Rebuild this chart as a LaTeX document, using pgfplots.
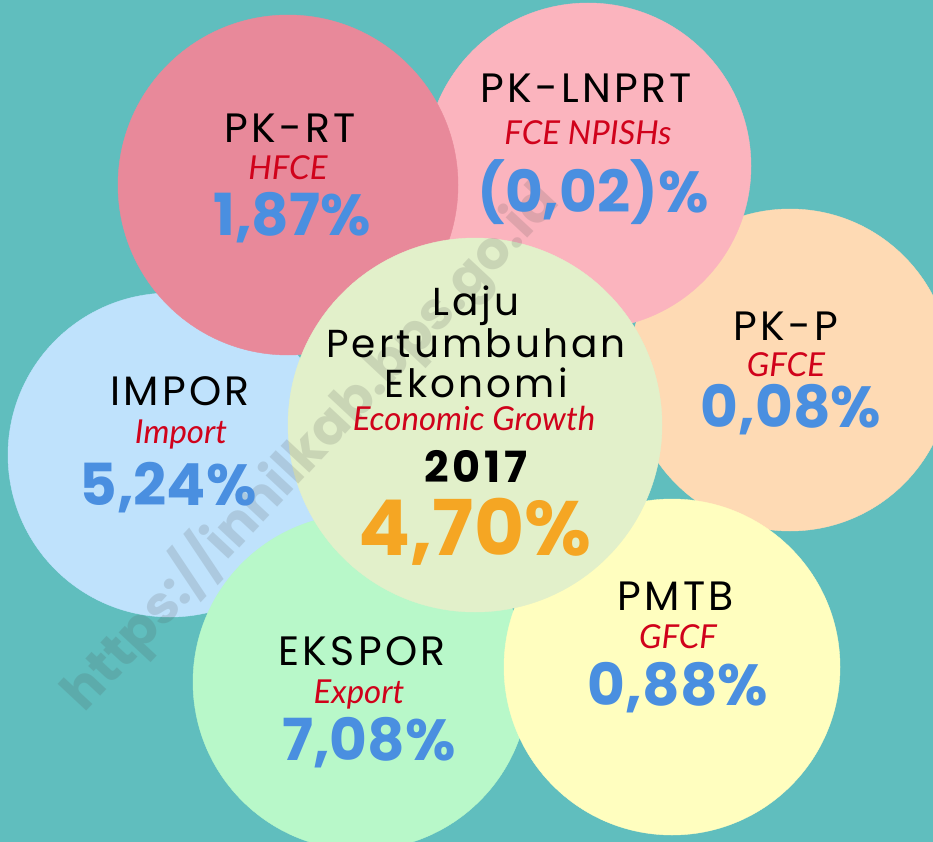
\documentclass[border=0pt]{standalone}
\usepackage{pgfplots}
\pgfplotsset{compat=1.18}
\usepackage{fontspec}
\setmainfont{Poppins}
\newfontfamily\mont{Poppins}[LetterSpace=8]
\newfontfamily\lato{Lato}
\definecolor{bg}{HTML}{60BEBE}
\definecolor{cRT}{HTML}{E8899A}
\definecolor{cLN}{HTML}{FBB4BE}
\definecolor{cP}{HTML}{FEDAB4}
\definecolor{cPM}{HTML}{FFFEBF}
\definecolor{cEX}{HTML}{B8F8C9}
\definecolor{cIM}{HTML}{BFE2FC}
\definecolor{cC}{HTML}{E2F0CA}
\definecolor{nblue}{HTML}{4A8FE0}
\definecolor{ered}{HTML}{D0021B}
\definecolor{orng}{HTML}{F5A623}
\newcommand{\nm}[1]{{\mont\fontsize{41}{41}\selectfont #1}}
\newcommand{\cl}[1]{{\mont\fontsize{39}{39}\selectfont #1}}
\newcommand{\en}[1]{{\lato\itshape\fontsize{33}{33}\selectfont\color{ered}#1}}
\newcommand{\val}[1]{{\bfseries\fontsize{58}{58}\selectfont\color{nblue}#1}}
\begin{document}
\begin{tikzpicture}
\begin{axis}[
  x=1pt, y=1pt, xmin=0, xmax=933, ymin=0, ymax=842,
  y dir=reverse, hide axis, clip=true, clip marker paths=true,
  scale only axis,
]
\addplot[fill=bg, draw=none] coordinates {(0,0) (933,0) (933,842) (0,842)} \closedcycle;
% circles (center x, center y), radius as mark size
\addplot[only marks, mark=*, color=cP, mark size=161pt] coordinates {(790,370)};
\addplot[only marks, mark=*, color=cLN, mark size=163pt] coordinates {(588,166)};
\addplot[only marks, mark=*, color=cIM, mark size=162pt] coordinates {(170,455)};
\addplot[only marks, mark=*, color=cRT, mark size=170pt] coordinates {(288,185)};
\addplot[only marks, mark=*, color=cEX, mark size=168pt] coordinates {(361,682)};
\addplot[only marks, mark=*, color=cPM, mark size=168pt] coordinates {(672,667)};
\addplot[only marks, mark=*, color=cC, mark size=187pt] coordinates {(475,425)};
% watermark
\node[rotate=47, opacity=0.16, text=black!70, font={\bfseries\fontsize{53}{53}\selectfont}] at (axis cs:310,446) {https://inhilkab.bps.go.id};
% PK-RT
\node[anchor=base] at (axis cs:290,143) {\nm{PK-RT}};
\node[anchor=base] at (axis cs:288,180) {\en{HFCE}};
\node[anchor=base] at (axis cs:292,235) {\val{1,87\%}};
% PK-LNPRT
\node[anchor=base] at (axis cs:586,103) {\nm{PK-LNPRT}};
\node[anchor=base] at (axis cs:588,145) {\en{FCE NPISHs}};
\node[anchor=base] at (axis cs:593,212) {\val{(0,02)\%}};
% PK-P
\node[anchor=base] at (axis cs:786,340) {\nm{PK-P}};
\node[anchor=base] at (axis cs:786,376) {\en{GFCE}};
\node[anchor=base] at (axis cs:791,427) {\val{0,08\%}};
% IMPOR
\node[anchor=base] at (axis cs:180,405) {\nm{IMPOR}};
\node[anchor=base] at (axis cs:181,443) {\en{Import}};
\node[anchor=base] at (axis cs:168,505) {\val{5,24\%}};
% EKSPOR
\node[anchor=base] at (axis cs:362,665) {\nm{EKSPOR}};
\node[anchor=base] at (axis cs:359,703) {\en{Export}};
\node[anchor=base] at (axis cs:369,760) {\val{7,08\%}};
% PMTB
\node[anchor=base] at (axis cs:676,610) {\nm{PMTB}};
\node[anchor=base] at (axis cs:678,648) {\en{GFCF}};
\node[anchor=base] at (axis cs:678,705) {\val{0,88\%}};
% centre
\node[anchor=base] at (axis cs:476,315) {\cl{Laju}};
\node[anchor=base] at (axis cs:476,357) {\cl{Pertumbuhan}};
\node[anchor=base] at (axis cs:476,397) {\cl{Ekonomi}};
\node[anchor=base] at (axis cs:474,430) {\en{Economic Growth}};
\node[anchor=base] at (axis cs:476,482) {\mont\bfseries\fontsize{43}{43}\selectfont 2017};
\node[anchor=base] at (axis cs:475,555) {\bfseries\fontsize{77}{77}\selectfont\color{orng}4,70\%};
\end{axis}
\pgfresetboundingbox
\useasboundingbox (current axis.south west) rectangle (current axis.north east);
\end{tikzpicture}
\end{document}
